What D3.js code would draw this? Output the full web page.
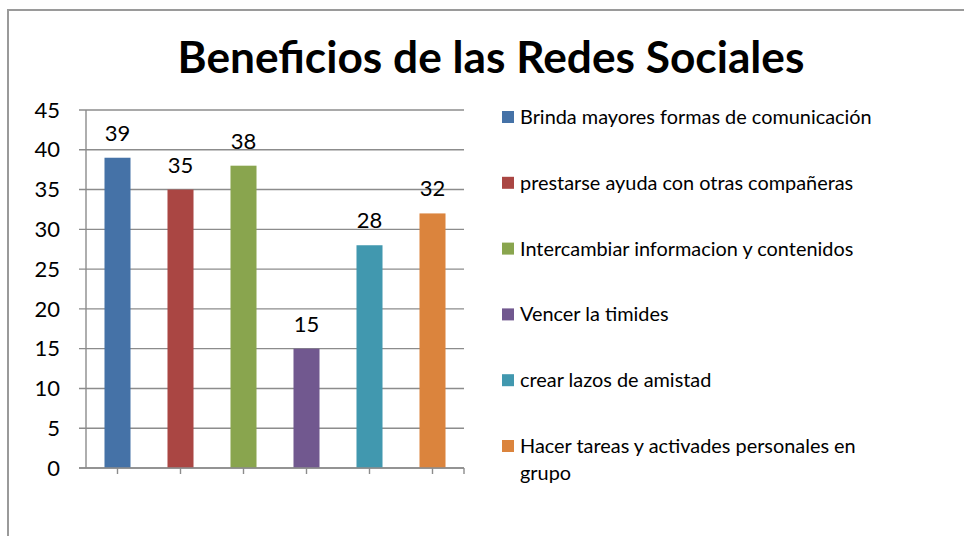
<!DOCTYPE html>
<html>
<head>
<meta charset="utf-8">
<script src="https://cdn.jsdelivr.net/npm/d3@7"></script>
<style>
  body { margin: 0; background: #fff; }
  svg { display: block; font-family: Lato, "Open Sans", sans-serif; }
</style>
</head>
<body>
<svg width="964" height="536"></svg>
<script>
  const title = 'Beneficios de las Redes Sociales';
  const categories = [
    'Brinda mayores formas de comunicación',
    'prestarse ayuda con otras compañeras',
    'Intercambiar informacion y contenidos',
    'Vencer la timides',
    'crear lazos de amistad',
    'Hacer tareas y activades personales en grupo'
  ];
  const values = [39, 35, 38, 15, 28, 32];
  const colors = ['#4572A7', '#AA4643', '#89A54E', '#71588F', '#4198AF', '#DB843D'];
  const yTicks = [0, 5, 10, 15, 20, 25, 30, 35, 40, 45];

  const svg = d3.select('svg');
  const gridColor = '#8c8c8c';

  // fit a text element to a target width by scaling its font size
  const fitWidth = (sel, target) => {
    const fs = parseFloat(sel.attr('font-size'));
    const w = sel.node().getComputedTextLength();
    sel.attr('font-size', fs * target / w);
  };

  svg.append('rect')
    .attr('width', 964).attr('height', 536)
    .attr('fill', '#fff');

  // chart border (runs off the right and bottom edges)
  svg.append('rect')
    .attr('x', 8).attr('y', 10)
    .attr('width', 1000).attr('height', 600)
    .attr('fill', 'none')
    .attr('stroke', '#9a9a9a')
    .attr('stroke-width', 2);

  const titleText = svg.append('text')
    .attr('x', 491).attr('y', 73)
    .attr('text-anchor', 'middle')
    .attr('font-weight', 'bold')
    .attr('font-size', 40)
    .attr('fill', '#000')
    .text(title);
  fitWidth(titleText, 627);

  const y = d3.scaleLinear().domain([0, 45]).range([468, 110]);
  const x = d3.scaleBand()
    .domain(categories)
    .range([86, 464])
    .paddingInner(0.587)
    .paddingOuter(0.2935);

  // gridlines + y labels
  const yg = svg.append('g');
  yg.selectAll('line.grid')
    .data(yTicks)
    .enter().append('line')
      .attr('class', 'grid')
      .attr('x1', 79).attr('x2', 464)
      .attr('y1', d => y(d)).attr('y2', d => y(d))
      .attr('stroke', gridColor)
      .attr('stroke-width', 1.4);
  yg.selectAll('text')
    .data(yTicks)
    .enter().append('text')
      .attr('x', 60)
      .attr('y', d => y(d))
      .attr('dy', '0.35em')
      .attr('text-anchor', 'end')
      .attr('font-size', 22)
      .attr('fill', '#000')
      .text(d => d);

  // y axis line
  svg.append('line')
    .attr('x1', 86).attr('x2', 86)
    .attr('y1', y(45)).attr('y2', y(0))
    .attr('stroke', gridColor)
    .attr('stroke-width', 1.4);

  // x ticks at bar centres and right end
  const xTickPos = categories.map(c => x(c) + x.bandwidth() / 2).concat([464]);
  svg.selectAll('line.xtick')
    .data(xTickPos)
    .enter().append('line')
      .attr('class', 'xtick')
      .attr('x1', d => d).attr('x2', d => d)
      .attr('y1', y(0)).attr('y2', y(0) + 6)
      .attr('stroke', gridColor)
      .attr('stroke-width', 1.4);

  // bars
  svg.selectAll('rect.bar')
    .data(values)
    .enter().append('rect')
      .attr('class', 'bar')
      .attr('x', (d, i) => x(categories[i]))
      .attr('y', d => y(d))
      .attr('width', x.bandwidth())
      .attr('height', d => y(0) - y(d))
      .attr('fill', (d, i) => colors[i]);

  // redraw baseline over bars
  svg.append('line')
    .attr('x1', 79).attr('x2', 464)
    .attr('y1', y(0)).attr('y2', y(0))
    .attr('stroke', gridColor)
    .attr('stroke-width', 1.4);

  // data labels
  svg.selectAll('text.val')
    .data(values)
    .enter().append('text')
      .attr('class', 'val')
      .attr('x', (d, i) => x(categories[i]) + x.bandwidth() / 2)
      .attr('y', d => y(d) - 17)
      .attr('text-anchor', 'middle')
      .attr('font-size', 22)
      .attr('fill', '#000')
      .text(d => d);

  // legend
  const legend = svg.append('g').attr('transform', 'translate(502,117)');
  const rows = legend.selectAll('g')
    .data(categories)
    .enter().append('g')
      .attr('transform', (d, i) => `translate(0, ${i * 65.8})`);
  rows.append('rect')
    .attr('x', 0).attr('y', -6)
    .attr('width', 12).attr('height', 12)
    .attr('fill', (d, i) => colors[i]);
  const legendText = rows.append('text')
    .attr('x', 18)
    .attr('dy', '0.35em')
    .attr('font-size', 18)
    .attr('fill', '#000');
  legendText.each(function (d) {
    const t = d3.select(this);
    const parts = d === categories[5]
      ? ['Hacer tareas y activades personales en', 'grupo']
      : [d];
    parts.forEach((p, j) => {
      t.append('tspan')
        .attr('x', 18)
        .attr('dy', j === 0 ? '0.35em' : 27)
        .text(p);
    });
  });
  // scale legend font to match reference width of first entry
  const first = legendText.filter((d, i) => i === 0);
  const fs0 = 18;
  const w0 = first.node().getComputedTextLength();
  legendText.attr('font-size', fs0 * 352 / w0);
</script>
</body>
</html>
